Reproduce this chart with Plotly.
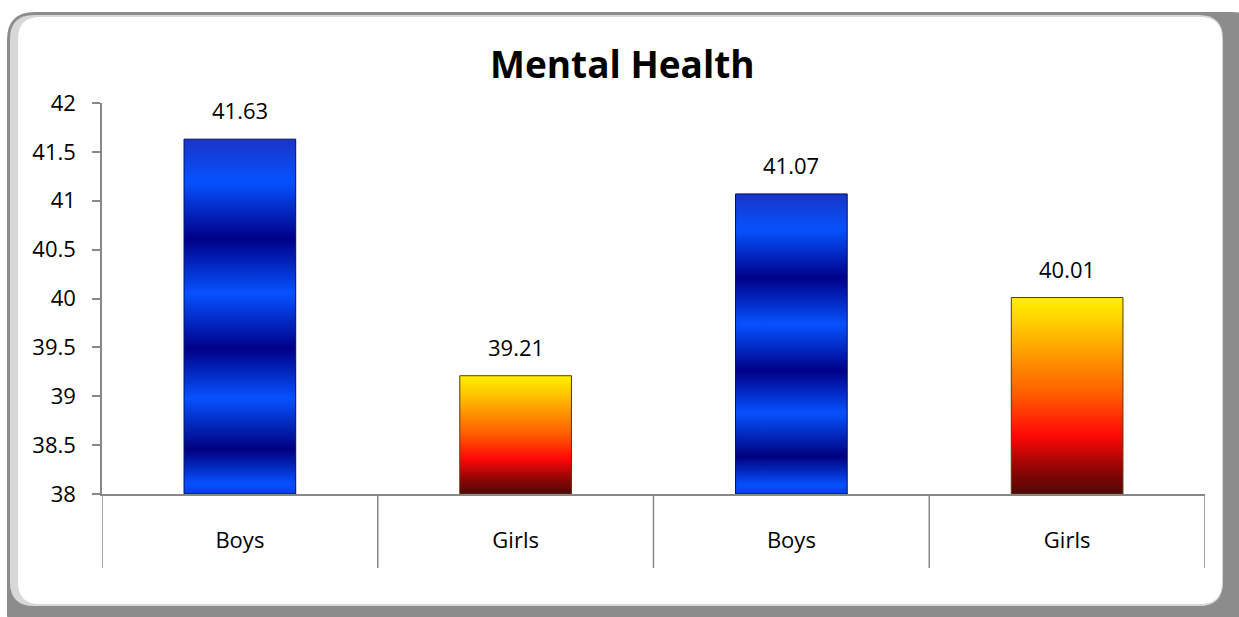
import plotly.graph_objects as go

# ---- data ----
categories = ["Boys", "Girls", "Boys", "Girls"]
values = [41.63, 39.21, 41.07, 40.01]
bar_kind = ["blue", "fire", "blue", "fire"]
y_ticks = [38, 38.5, 39, 39.5, 40, 40.5, 41, 41.5, 42]
y_tick_text = ["38", "38.5", "39", "39.5", "40", "40.5", "41", "41.5", "42"]
title_text = "Mental Health"

# ---- styles ----
FONT = "Open Sans"
AX = "#878787"
blue_scale = [
    [0.00, "#0a3ce6"], [0.03, "#0650ff"], [0.125, "#00007e"], [0.27, "#0652ff"],
    [0.41, "#000088"], [0.565, "#0652ff"], [0.72, "#000088"], [0.88, "#0652ff"],
    [1.00, "#1a34c8"],
]
fire_scale = [
    [0.00, "#4e0808"], [0.12, "#8e0404"], [0.30, "#ff0808"], [0.50, "#ff5a00"],
    [0.70, "#ff9800"], [0.88, "#ffd000"], [1.00, "#fff000"],
]
scales = {"blue": blue_scale, "fire": fire_scale}
edges = {"blue": "#00105a", "fire": "#5a3a00"}
BAR_W = 0.405
Y0 = 38

# plot-area geometry in pixels
W_FIG, H_FIG = 1239, 617
L, R, T, B = 102, 1205, 103, 494


def px(x):
    return (x - L) / (R - L)


def py(y):
    return (B - y) / (B - T)


def rrect(x0, y0, x1, y1, r):
    rx = r / (R - L)
    ry = r / (B - T)
    a, b, c, d = px(x0), px(x1), py(y0), py(y1)  # a left, b right, c top, d bottom
    return (f"M {a+rx},{c} L {b-rx},{c} Q {b},{c} {b},{c-ry} "
            f"L {b},{d+ry} Q {b},{d} {b-rx},{d} L {a+rx},{d} "
            f"Q {a},{d} {a},{d+ry} L {a},{c-ry} Q {a},{c} {a+rx},{c} Z")


fig = go.Figure()

xs = list(range(len(categories)))
for i, (v, k) in enumerate(zip(values, bar_kind)):
    x0, x1 = i - BAR_W / 2, i + BAR_W / 2
    fig.add_trace(go.Scatter(
        x=[x0, x1, x1, x0, x0], y=[Y0, Y0, v, v, Y0],
        mode="lines", fill="toself",
        line=dict(color=edges[k], width=1),
        fillgradient=dict(type="vertical", colorscale=scales[k]),
        hoverinfo="skip", showlegend=False,
    ))

annotations = []
for i, v in enumerate(values):
    annotations.append(dict(
        x=i, y=v, xref="x", yref="y", text=f"{v:.2f}", showarrow=False,
        yanchor="bottom", yshift=12, font=dict(family=FONT, size=22, color="#000"),
    ))
annotations.append(dict(
    x=px(622), y=py(64), xref="paper", yref="paper", text=f"<b>{title_text}</b>",
    showarrow=False, xanchor="center", yanchor="middle",
    font=dict(family=FONT, size=37, color="#000"),
))

shapes = [
    dict(type="path", xref="paper", yref="paper", layer="below",
         path=rrect(7, 12, 1260, 640, 28), fillcolor="#8c8c8c", line=dict(width=0)),
    dict(type="path", xref="paper", yref="paper", layer="below",
         path=rrect(10, 15, 1223, 606, 24), fillcolor="#d8d8d8", line=dict(width=0)),
    dict(type="path", xref="paper", yref="paper", layer="below",
         path=rrect(18, 17, 1222, 604, 22), fillcolor="#ffffff", line=dict(width=0)),
]
# category dividers
for bnd in [-0.5, 0.5, 1.5, 2.5, 3.5]:
    shapes.append(dict(type="line", xref="x", yref="paper", x0=bnd, x1=bnd,
                       y0=py(568), y1=0, line=dict(color=AX, width=1.5)))

fig.update_layout(
    width=W_FIG, height=H_FIG,
    margin=dict(l=L, r=W_FIG - R, t=T, b=H_FIG - B),
    paper_bgcolor="#ffffff", plot_bgcolor="rgba(0,0,0,0)",
    showlegend=False,
    annotations=annotations, shapes=shapes,
    xaxis=dict(range=[-0.5, 3.5], tickvals=xs, ticktext=categories,
               showgrid=False, zeroline=False, showline=True, linecolor=AX, linewidth=1.5,
               ticks="", ticklabelstandoff=26,
               tickfont=dict(family=FONT, size=22, color="#000"), fixedrange=True),
    yaxis=dict(range=[38, 42], tickvals=y_ticks, ticktext=y_tick_text,
               showgrid=False, zeroline=False, showline=True, linecolor=AX, linewidth=1.5,
               ticks="outside", ticklen=8, tickcolor=AX, tickwidth=1.5,
               ticklabelstandoff=12,
               tickfont=dict(family=FONT, size=22, color="#000"), fixedrange=True),
)

fig.write_html("out.html")
